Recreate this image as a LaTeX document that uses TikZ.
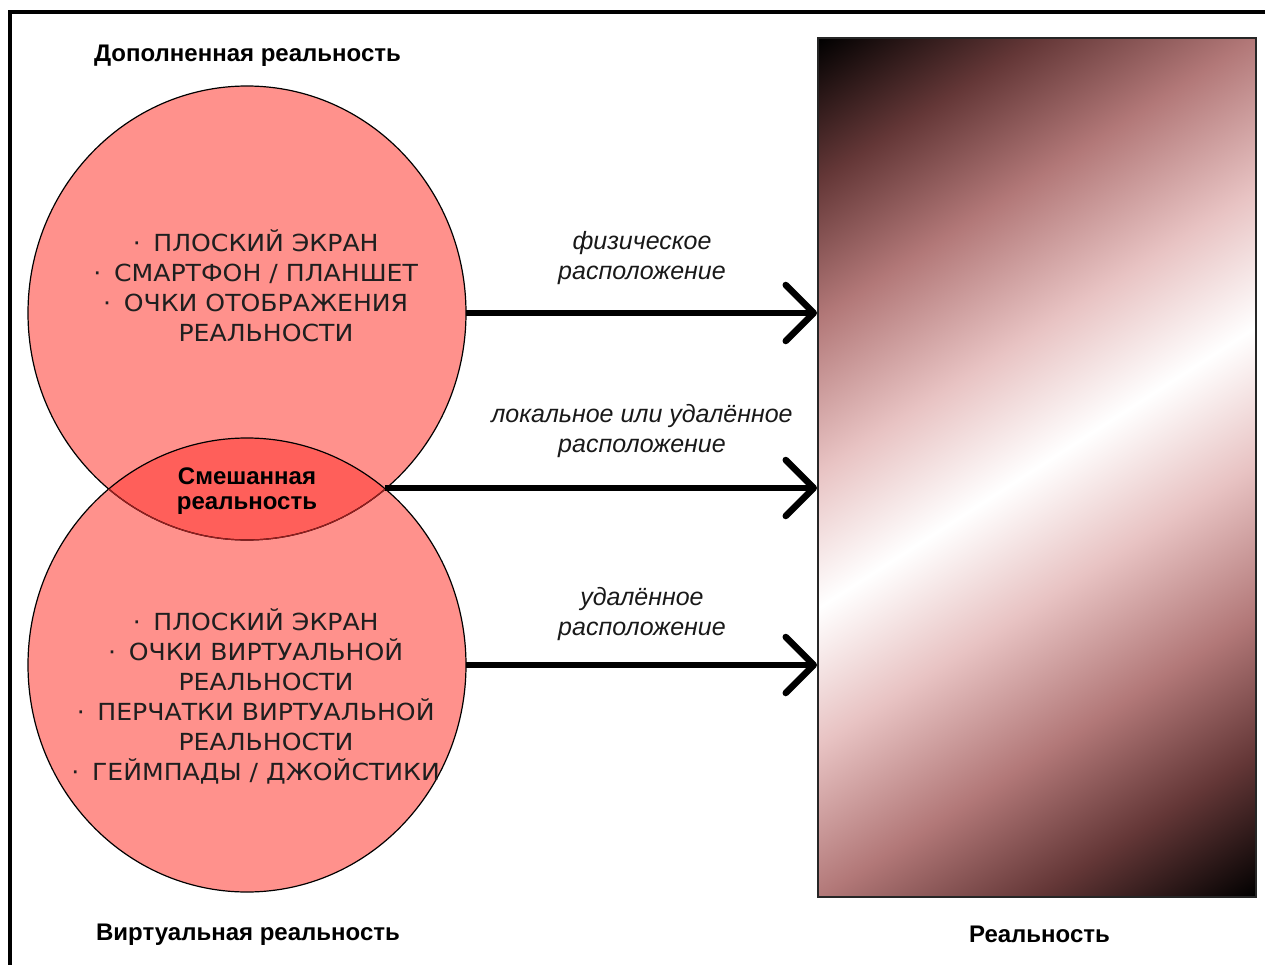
\documentclass[tikz,border=0pt]{standalone}
\usepackage{fontspec}
\setmainfont{Liberation Sans}
\newfontfamily\listfont[FakeStretch=1.07]{DejaVu Sans}
\usetikzlibrary{arrows.meta,shapes.geometric}
\definecolor{circfill}{RGB}{255,145,140}
\definecolor{lensfill}{RGB}{255,95,90}
\definecolor{lensline}{RGB}{150,30,30}
\definecolor{gA}{RGB}{100,55,55}
\definecolor{gB}{RGB}{178,120,120}
\definecolor{gC}{RGB}{232,195,195}
\pgfdeclareverticalshading{realgrad}{100bp}{color(0bp)=(black); color(25bp)=(black); color(31.25bp)=(gA); color(37.3bp)=(gB); color(44bp)=(gC); color(50bp)=(white); color(56bp)=(gC); color(62.7bp)=(gB); color(68.75bp)=(gA); color(75bp)=(black); color(100bp)=(black)}
\newcommand\itm[1]{\llap{·\hspace{12.6pt}}#1}
\begin{document}
\begin{tikzpicture}[x=1pt,y=-1pt,
  frame/.style={line width=3.3pt, line join=miter},
  circ/.style={ellipse, fill=circfill, inner sep=0pt, minimum width=438pt, minimum height=454pt},
  outl/.style={line width=1.2pt},
  title/.style={font=\bfseries\fontsize{24}{25}\selectfont, anchor=base},
  mixt/.style={font=\bfseries\fontsize{24}{25}\selectfont, align=center, inner sep=0pt},
  lbl/.style={font=\itshape\fontsize{25}{30}\selectfont, align=center, inner sep=0pt, text=black!90},
  lst/.style={font=\listfont\fontsize{23.5}{30}\selectfont, align=center, inner sep=0pt, text=black!88},
  arr/.style={line width=6.5pt, -{Straight Barb[length=28pt,width=56pt,round]}},
  rbox/.style={draw=black!85, line width=2pt, minimum width=438pt, minimum height=859pt, inner sep=0pt}
]
\useasboundingbox (0,0) rectangle (1265,965);
\fill[white] (0,0) rectangle (1265,965);
\draw[frame] (10,980) -- (10,12) -- (1280,12);

% circles
\node[circ] (ar) at (247,313) {};
\node[circ] (vr) at (247,665) {};
\begin{scope}
  \clip (247,313) ellipse [x radius=219, y radius=227];
  \fill[lensfill] (247,665) ellipse [x radius=219, y radius=227];
\end{scope}
\draw[outl] (247,313) ellipse [x radius=219, y radius=227];
\draw[outl] (247,665) ellipse [x radius=219, y radius=227];
\begin{scope}
  \clip (247,665) ellipse [x radius=219, y radius=227];
  \draw[outl, lensline] (247,313) ellipse [x radius=219, y radius=227];
\end{scope}
\coordinate (mixR) at (385,488);

% reality box
\begin{scope}
  \clip (818,38) rectangle (1256,897);
  \begin{scope}[transform canvas={shift={(1037,467.5)}, rotate=32.7}]
    \shade[shading=realgrad] (-600,-480) rectangle (600,480);
  \end{scope}
\end{scope}
\node[rbox] (real) at (1037,467.5) {};

% arrows
\draw[arr] (ar.east) -- (ar.east -| real.west);
\draw[arr] (mixR) -- (mixR -| real.west);
\draw[arr] (vr.east) -- (vr.east -| real.west);

% texts
\node[title] (tar) at (247.5,62) {Дополненная реальность};
\node[title] (tvr) at (248,940) {Виртуальная реальность};
\node[title] (treal) at (1039.5,942) {Реальность};
\node[mixt] (mr) at (247,491) {Смешанная\\реальность};

\node[lst] (lar) at (266,286.2) {\itm{ПЛОСКИЙ ЭКРАН}\\\itm{СМАРТФОН / ПЛАНШЕТ}\\\itm{ОЧКИ ОТОБРАЖЕНИЯ}\\РЕАЛЬНОСТИ};
\node[lst] (lvr) at (266,696.5) {\itm{ПЛОСКИЙ ЭКРАН}\\\itm{ОЧКИ ВИРТУАЛЬНОЙ}\\РЕАЛЬНОСТИ\\\itm{ПЕРЧАТКИ ВИРТУАЛЬНОЙ}\\РЕАЛЬНОСТИ\\\itm{ГЕЙМПАДЫ / ДЖОЙСТИКИ}};

\node[lbl] (l1) at (642,257.6) {физическое\\расположение};
\node[lbl] (l2) at (642,431.4) {локальное или удалённое\\расположение};
\node[lbl] (l3) at (642,613.9) {удалённое\\расположение};
\end{tikzpicture}
\end{document}
